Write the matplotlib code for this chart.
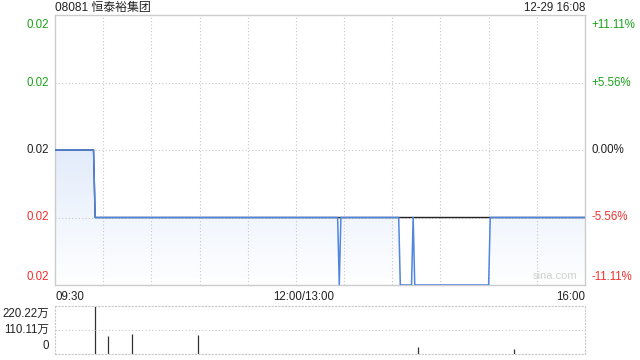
import numpy as np
import matplotlib
matplotlib.use("Agg")
import matplotlib.pyplot as plt
from matplotlib.colors import LinearSegmentedColormap

plt.rcParams["font.family"] = ["Liberation Sans", "Noto Sans CJK SC", "DejaVu Sans"]

# ── data ─────────────────────────────────────────────────────────────────────
title = "08081 恒泰裕集团"
stamp = "12-29 16:08"
prev_close = 0.018

# price as steps: minute index where a level starts, and the level
price_start = [0, 25, 177, 178, 215, 223, 224, 271]
price_level = [0.018, 0.017, 0.016, 0.017, 0.016, 0.017, 0.016, 0.017]

# average price line (mostly hidden under the price line)
avg_start = [0, 25]
avg_level = [0.018, 0.017]

# volume, in 万 shares
vol_minute = [25, 33, 48, 89, 179, 218, 226, 274, 286]
vol_value = [220.22, 81.0, 91.0, 85.0, 1.5, 1.5, 31.0, 1.5, 22.0]

price_ticks = [0.020, 0.019, 0.018, 0.017, 0.016]
price_labels = ["0.02", "0.02", "0.02", "0.02", "0.02"]
pct_labels = ["+11.11%", "+5.56%", "0.00%", "-5.56%", "-11.11%"]
vol_ticks = [0, 110.11, 220.22]
vol_labels = ["0", "110.11万", "220.22万"]
time_labels = ["09:30", "12:00/13:00", "16:00"]

N_MIN = 330
GREEN = "#1aa31a"
RED = "#f03030"
DARK = "#222222"
GRID = "#c8c8c8"
BORDER = "#cccccc"
LINE = "#4f86e0"


def expand(starts, levels):
    out = np.empty(N_MIN + 1)
    bounds = list(starts) + [N_MIN + 1]
    for i, lv in enumerate(levels):
        out[bounds[i]:bounds[i + 1]] = lv
    return out


minutes = np.arange(N_MIN + 1)
price = expand(price_start, price_level)
avg = expand(avg_start, avg_level)
ymin, ymax = price_ticks[-1], price_ticks[0]

fig = plt.figure(figsize=(6.4, 3.6), dpi=100)
ax = fig.add_axes([55 / 640, 1 - 285 / 360, 530 / 640, 270 / 360])
axv = fig.add_axes([55 / 640, 1 - 354 / 360, 530 / 640, 48 / 360])

# ── price panel ──────────────────────────────────────────────────────────────
ax.set_xlim(0, N_MIN)
ax.set_ylim(ymin, ymax)

poly = ax.fill_between(minutes, price, ymin, color="none", lw=0)
cmap = LinearSegmentedColormap.from_list("fade", ["#ffffff", "#e3ecfb"])
grad = np.linspace(0, 1, 256).reshape(-1, 1)
im = ax.imshow(grad, extent=[0, N_MIN, ymin, prev_close], origin="lower",
               aspect="auto", cmap=cmap, zorder=1)
im.set_clip_path(poly.get_paths()[0], transform=ax.transData)

for m in range(30, N_MIN, 30):
    ax.axvline(m, color=GRID, lw=0.8, ls=(0, (1, 2)), zorder=2)
for p in price_ticks[1:-1]:
    ax.axhline(p, color=GRID, lw=0.8, ls=(0, (1, 2)), zorder=2)

ax.plot(minutes, avg, color=DARK, lw=1.0, zorder=3)
ax.plot(minutes, price, color=LINE, lw=1.1, zorder=4)

ax.set_xticks([])
ax.set_yticks([])
for s in ax.spines.values():
    s.set_color(BORDER)
    s.set_linewidth(1.0)

colors = [GREEN, GREEN, DARK, RED, RED]
vas = ["top", "center", "center", "center", "bottom"]
for p, lab, pct, c, va in zip(price_ticks, price_labels, pct_labels, colors, vas):
    off = {"top": -0.00006, "center": 0, "bottom": 0.00003}[va]
    ax.text(-4, p + off, lab, color=c, fontsize=8.3, ha="right", va=va,
            transform=ax.transData, clip_on=False)
    ax.text(N_MIN + 4, p + off, pct, color=c, fontsize=8.3, ha="left", va=va,
            transform=ax.transData, clip_on=False)

ax.text(0, 1.005, title, transform=ax.transAxes, fontsize=8.6, color=DARK,
        ha="left", va="bottom")
ax.text(1, 1.005, stamp, transform=ax.transAxes, fontsize=8.3, color=DARK,
        ha="right", va="bottom")
ax.text(0.985, 0.015, "sina.com", transform=ax.transAxes, fontsize=8,
        color="#d0d0d0", ha="right", va="bottom", zorder=5)

ax.text(0, -0.022, time_labels[0], transform=ax.transAxes, fontsize=8.3,
        color=DARK, ha="left", va="top")
ax.text(155, -0.022, time_labels[1], transform=ax.get_xaxis_transform(),
        fontsize=8.3, color=DARK, ha="center", va="top")
ax.text(1, -0.022, time_labels[2], transform=ax.transAxes, fontsize=8.3,
        color=DARK, ha="right", va="top")

# ── volume panel ─────────────────────────────────────────────────────────────
axv.set_xlim(0, N_MIN)
axv.set_ylim(0, vol_ticks[-1])
axv.vlines(vol_minute, 0, vol_value, color="#333333", lw=0.9)
axv.axhline(vol_ticks[1], color=GRID, lw=0.8, ls=(0, (1, 2)))
axv.set_xticks([])
axv.set_yticks([])
for s in axv.spines.values():
    s.set_color(GRID)
    s.set_linewidth(0.8)
    s.set_linestyle((0, (1, 2)))

vvas = ["bottom", "center", "top"]
voff = [8, 0, -8]
for v, lab, va, o in zip(vol_ticks, vol_labels, vvas, voff):
    axv.text(-4, v + o, lab, color=DARK, fontsize=8.3, ha="right", va=va,
             clip_on=False)

fig.savefig("out.png", dpi=100)
